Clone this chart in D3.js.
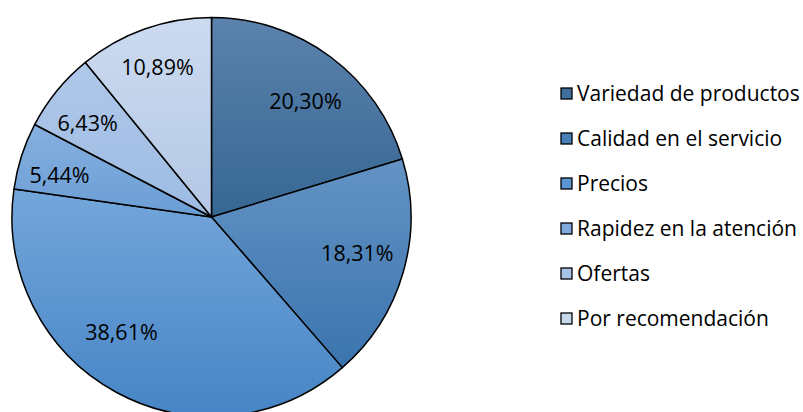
<!DOCTYPE html>
<html>
<head>
<meta charset="utf-8">
<script src="https://cdn.jsdelivr.net/npm/d3@7"></script>
<style>
  body { margin: 0; background: #fff; }
  svg { display: block; }
  text { font-family: "Open Sans", Lato, sans-serif; fill: #000; }
</style>
</head>
<body>
<svg width="803" height="412"></svg>
<script>
// datos del grafico
const categorias = ['Variedad de productos', 'Calidad en el servicio', 'Precios', 'Rapidez en la atención', 'Ofertas', 'Por recomendación']
const valores = [20.30, 18.31, 38.61, 5.44, 6.43, 10.89]
const etiquetas = ['20,30%', '18,31%', '38,61%', '5,44%', '6,43%', '10,89%']

// colores arriba / abajo de cada gajo (degradado tipo Excel)
const colorArriba = ['#5b82ac', '#6393c4', '#74a6da', '#86b0df', '#afc8e9', '#ccdbf0']
const colorAbajo  = ['#366793', '#3b74ae', '#4685c6', '#6a9dd5', '#9dbbe3', '#b4c7e4']
const colorLeyenda = ['#3f6f9c', '#4a80b8', '#5b96d2', '#7eaadc', '#a9c3e6', '#c7d7ee']

const width = 803
const height = 412
const radio = 199.5
const cx = 211.5
const cy = 217

let svg = d3.select('svg')
let defs = svg.append('defs')

categorias.forEach((c, i) => {
  let g = defs.append('linearGradient')
      .attr('id', 'grad' + i)
      .attr('x1', 0).attr('y1', 0)
      .attr('x2', 0).attr('y2', 1)
  g.append('stop').attr('offset', '0%').attr('stop-color', colorArriba[i])
  g.append('stop').attr('offset', '100%').attr('stop-color', colorAbajo[i])
})

let pie = d3.pie().sort(null).value(d => d)
let arcos = pie(valores)

let arc = d3.arc().innerRadius(0).outerRadius(radio)
let arcEtiqueta = d3.arc().innerRadius(radio * 0.74).outerRadius(radio * 0.74)

let grafica = svg.append('g')
    .attr('transform', 'translate(' + cx + ',' + cy + ')')

grafica.selectAll('path')
    .data(arcos)
    .enter()
    .append('path')
    .attr('d', arc)
    .attr('fill', (d, i) => 'url(#grad' + i + ')')
    .attr('stroke', '#000')
    .attr('stroke-width', 1.5)
    .attr('stroke-linejoin', 'round')

// ajustes finos de posicion de etiquetas (como las pone Excel)
const ajusteX = [6, 4, -19.5, -11.5, -9.5, -4.5]
const ajusteY = [3.5, -4, -14, 4, 0, -10]

grafica.selectAll('text.etiqueta')
    .data(arcos)
    .enter()
    .append('text')
    .attr('class', 'etiqueta')
    .attr('x', (d, i) => arcEtiqueta.centroid(d)[0] + ajusteX[i])
    .attr('y', (d, i) => arcEtiqueta.centroid(d)[1] + ajusteY[i])
    .attr('dy', '0.35em')
    .attr('text-anchor', 'middle')
    .attr('font-size', '21.5px')
    .text((d, i) => etiquetas[i])

// leyenda
let y = d3.scalePoint()
    .domain(categorias)
    .range([94, 319])

let leyenda = svg.append('g')

leyenda.selectAll('rect')
    .data(categorias)
    .enter()
    .append('rect')
    .attr('x', 561)
    .attr('y', d => y(d) - 6)
    .attr('width', 11)
    .attr('height', 11)
    .attr('fill', (d, i) => colorLeyenda[i])
    .attr('stroke', '#000')
    .attr('stroke-width', 1.3)

leyenda.selectAll('text')
    .data(categorias)
    .enter()
    .append('text')
    .attr('x', 577)
    .attr('y', d => y(d))
    .attr('dy', '0.35em')
    .attr('font-size', '21px')
    .text(d => d)
</script>
</body>
</html>
